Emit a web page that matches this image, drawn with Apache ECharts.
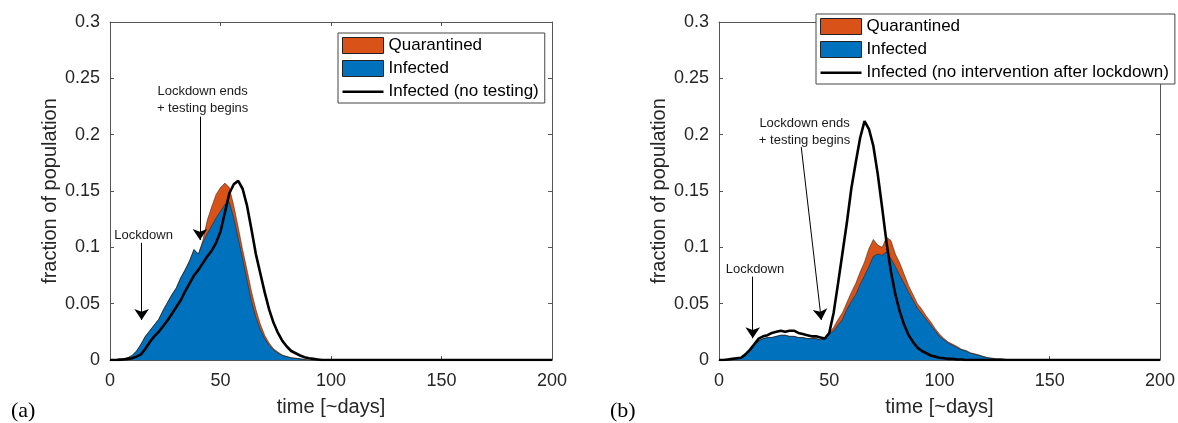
<!DOCTYPE html>
<html>
<head>
<meta charset="utf-8">
<script src="https://cdn.jsdelivr.net/npm/echarts@6/dist/echarts.min.js"></script>
<style>
html,body{margin:0;padding:0;background:#fff;}
#c{width:1178px;height:423px;}
</style>
</head>
<body>
<div id="c"></div>
<script>
// ---- data (time in days; fraction of population) ----
const days = [0,2,4,6,8,10,12,14,16,18,20,22,24,26,28,30,32,34,36,38,40,42,44,46,48,50,52,54,56,58,
  60,62,64,66,68,70,72,74,76,78,80,82,84,86,88,90,92,94,96,98,100,102,104,106,108,110,112,114,116,118,
  120,122,124,126,128,130,140,150,160,170,180,190,200];

// Panel (a)
const infectedA = [0,0,0.001,0.001,0.002,0.004,0.008,0.014,0.021,0.026,
  0.031,0.036,0.044,0.051,0.058,0.064,0.073,0.080,0.088,0.098,
  0.094,0.104,0.112,0.119,0.126,0.132,0.138,0.140,0.126,0.108,
  0.090,0.071,0.052,0.038,0.027,0.019,0.013,0.009,0.006,0.004,
  0.003,0.002,0.0015,0.001,0.0005,0,0,0,0,0,
  0,0,0,0,0,0,0,0,0,0,
  0,0,0,0,0,0,
  0,0,0,0,0,0,0];
const quarantinedA = [0,0,0,0,0,0,0,0,0,0,
  0,0,0,0,0,0,0,0,0,0,
  0,0.002,0.012,0.017,0.021,0.021,0.019,0.013,0.011,0.010,
  0.008,0.009,0.009,0.007,0.005,0.003,0.002,0.001,0.001,0.0005,
  0,0,0,0,0,0,0,0,0,0,
  0,0,0,0,0,0,0,0,0,0,
  0,0,0,0,0,0,
  0,0,0,0,0,0,0];
const noTestingA = [0,0,0,0.0005,0.001,0.0015,0.003,0.005,0.010,0.016,
  0.021,0.025,0.030,0.035,0.041,0.047,0.053,0.061,0.068,0.075,
  0.080,0.086,0.092,0.097,0.104,0.114,0.131,0.148,0.156,0.159,
  0.152,0.137,0.116,0.094,0.077,0.060,0.045,0.033,0.024,0.017,
  0.012,0.008,0.006,0.004,0.0025,0.0015,0.001,0.0005,0,0,
  0,0,0,0,0,0,0,0,0,0,
  0,0,0,0,0,0,
  0,0,0,0,0,0,0];

// Panel (b)
const infectedB = [0,0,0,0.0005,0.001,0.002,0.004,0.008,0.013,0.017,
  0.019,0.020,0.020,0.021,0.022,0.022,0.021,0.021,0.020,0.020,
  0.019,0.019,0.019,0.018,0.019,0.023,0.026,0.031,0.036,0.045,
  0.052,0.058,0.067,0.075,0.083,0.092,0.094,0.093,0.096,0.090,
  0.083,0.075,0.068,0.060,0.053,0.046,0.041,0.036,0.031,0.026,
  0.021,0.018,0.015,0.013,0.011,0.009,0.008,0.006,0.005,0.004,
  0.003,0.002,0.0015,0.001,0.001,0.0005,
  0,0,0,0,0,0,0];
const quarantinedB = [0,0,0,0,0,0,0,0,0,0,
  0,0,0,0,0,0,0,0,0,0,
  0,0,0,0,0,0.001,0.003,0.005,0.006,0.006,
  0.008,0.010,0.011,0.012,0.016,0.015,0.008,0.007,0.013,0.016,
  0.011,0.011,0.008,0.006,0.005,0.004,0.004,0.003,0.003,0.002,
  0.002,0.001,0.001,0.001,0.001,0.0005,0.0005,0.0005,0.0005,0.0005,
  0,0,0,0,0,0,
  0,0,0,0,0,0,0];
const noInterventionB = [0,0,0.0005,0.001,0.0015,0.002,0.005,0.009,0.014,0.019,
  0.021,0.022,0.024,0.025,0.026,0.025,0.026,0.026,0.024,0.023,
  0.022,0.021,0.021,0.020,0.019,0.024,0.042,0.068,0.095,0.122,
  0.152,0.175,0.197,0.212,0.205,0.190,0.165,0.135,0.104,0.078,
  0.058,0.043,0.031,0.022,0.016,0.011,0.008,0.006,0.004,0.003,
  0.002,0.0015,0.001,0.001,0.0005,0.0005,0,0,0,0,
  0,0,0,0,0,0,
  0,0,0,0,0,0,0];

// axis ticks
const xTicks = [0, 50, 100, 150, 200];
const yTicks = [0, 0.05, 0.1, 0.15, 0.2, 0.25, 0.3];

// names / annotation text
const seriesNames = ['Quarantined', 'Infected'];
const lineNameA = 'Infected (no testing)';
const lineNameB = 'Infected (no intervention after lockdown)';
const annotLockdown = 'Lockdown';
const annotEnds = 'Lockdown ends\n+ testing begins';
// annotation anchors in data coordinates [day, fraction]
const lockdownA = {text: [15.2, 0.111], from: [14.3, 0.104], to: [14.3, 0.0355]};
const endsA = {text: [41.9, 0.231], from: [40.7, 0.216], to: [40.7, 0.1065]};
const lockdownB = {text: [16.3, 0.0805], from: [15.3, 0.074], to: [15.3, 0.0193]};
const endsB = {text: [38.8, 0.2026], from: [37.3, 0.189], to: [46.4, 0.0355]};

// ---- chart ----
const FONT = "'Liberation Sans', Arial, Helvetica, sans-serif";
const BLUE = '#0072BD', ORANGE = '#D95319', AXIS = '#555555', TXT = '#262626';
const pairs = arr => days.map((d, i) => [d, arr[i]]);
// stacked top of the quarantined band = infected + quarantined
const stackedTop = (a, b) => days.map((d, i) => [d, a[i] + b[i]]);

function xAx(grid, top) {
  return {
    type: 'value', gridIndex: grid, position: top ? 'top' : 'bottom',
    min: xTicks[0], max: xTicks[xTicks.length - 1], interval: xTicks[1] - xTicks[0],
    axisLine: {show: true, onZero: false, lineStyle: {color: AXIS, width: 1}},
    axisTick: {show: true, inside: true, length: 4, lineStyle: {color: AXIS}},
    axisLabel: {show: !top, fontSize: 18, color: TXT, fontFamily: FONT, margin: 12},
    splitLine: {show: false},
    name: top ? '' : 'time [~days]', nameLocation: 'middle', nameGap: 37,
    nameTextStyle: {fontSize: 20, color: TXT, fontFamily: FONT}
  };
}
function yAx(grid, right) {
  return {
    type: 'value', gridIndex: grid, position: right ? 'right' : 'left',
    min: yTicks[0], max: yTicks[yTicks.length - 1], interval: yTicks[1] - yTicks[0],
    axisLine: {show: true, onZero: false, lineStyle: {color: AXIS, width: 1}},
    axisTick: {show: true, inside: true, length: 4, lineStyle: {color: AXIS}},
    axisLabel: {show: !right, fontSize: 18, color: TXT, fontFamily: FONT, margin: 10},
    splitLine: {show: false},
    name: right ? '' : 'fraction of population', nameLocation: 'middle', nameGap: 50,
    nameTextStyle: {fontSize: 20, color: TXT, fontFamily: FONT}
  };
}

function arrow(a) {
  return [{coord: a.from, symbol: 'none'}, {coord: a.to, symbol: 'arrow', symbolSize: 11}];
}
function annotPoint(pos, text) {
  return {coord: pos, value: text, symbol: 'circle', symbolSize: 1,
    itemStyle: {color: 'rgba(0,0,0,0)'},
    label: {show: true, position: 'inside', formatter: text, color: '#1a1a1a',
      fontSize: 13, lineHeight: 17, fontFamily: FONT, align: 'center'}};
}

function panelSeries(xi, yi, inf, quar, line, lineName, annots) {
  return [
    {name: 'Quarantined', type: 'line', xAxisIndex: xi, yAxisIndex: yi,
      data: stackedTop(inf, quar), symbol: 'none', color: ORANGE,
      lineStyle: {color: '#1a1a1a', width: 0.5}, areaStyle: {color: ORANGE, opacity: 1, origin: 'start'}, z: 2},
    {name: 'Infected', type: 'line', xAxisIndex: xi, yAxisIndex: yi,
      data: pairs(inf), symbol: 'none', color: BLUE,
      lineStyle: {color: '#1a1a1a', width: 0.5}, areaStyle: {color: BLUE, opacity: 1, origin: 'start'}, z: 2},
    {name: lineName, type: 'line', xAxisIndex: xi, yAxisIndex: yi,
      data: pairs(line), symbol: 'none', color: '#000',
      lineStyle: {color: '#000', width: 2.6}, z: 3,
      markLine: {silent: true, symbol: ['none', 'arrow'], symbolSize: 11,
        lineStyle: {color: '#000', width: 1, type: 'solid'}, label: {show: false},
        data: [arrow(annots[0]), arrow(annots[1])]},
      markPoint: {silent: true, data: [annotPoint(annots[0].text, annotLockdown), annotPoint(annots[1].text, annotEnds)]}
    }
  ];
}

function legendFor(left, top, lineName) {
  return {
    left: left, top: top, orient: 'vertical', selectedMode: false,
    backgroundColor: '#fff', borderColor: '#444', borderWidth: 1,
    padding: [4, 6, 3, 4], itemGap: 6, itemWidth: 41, itemHeight: 16,
    textStyle: {fontSize: 17, color: '#000', fontFamily: FONT, lineHeight: 17},
    data: [
      {name: seriesNames[0], icon: 'rect', itemStyle: {color: ORANGE, borderColor: '#222', borderWidth: 1}},
      {name: seriesNames[1], icon: 'rect', itemStyle: {color: BLUE, borderColor: '#222', borderWidth: 1}},
      {name: lineName, icon: 'path://M0,0M41,16M0,7H41V9.5H0Z', itemStyle: {color: '#000', borderWidth: 0}}
    ]
  };
}

const chart = echarts.init(document.getElementById('c'), null, {renderer: 'canvas'});
chart.setOption({
  animation: false,
  backgroundColor: '#fff',
  textStyle: {fontFamily: FONT},
  title: [
    {text: '(a)', left: 6, top: 395, textStyle: {fontFamily: "'Liberation Serif', 'Times New Roman', serif", fontSize: 22, fontWeight: 'normal', color: '#000'}},
    {text: '(b)', left: 605, top: 395, textStyle: {fontFamily: "'Liberation Serif', 'Times New Roman', serif", fontSize: 22, fontWeight: 'normal', color: '#000'}}
  ],
  grid: [
    {left: 110, top: 22, width: 442, height: 338},
    {left: 719, top: 22, width: 443, height: 338}
  ],
  xAxis: [xAx(0, false), xAx(0, true), xAx(1, false), xAx(1, true)],
  yAxis: [yAx(0, false), yAx(0, true), yAx(1, false), yAx(1, true)],
  legend: [legendFor(338, 33, lineNameA), legendFor(816, 14, lineNameB)],
  series: [].concat(
    panelSeries(0, 0, infectedA, quarantinedA, noTestingA, lineNameA, [lockdownA, endsA]),
    panelSeries(2, 2, infectedB, quarantinedB, noInterventionB, lineNameB, [lockdownB, endsB])
  )
});
</script>
</body>
</html>
